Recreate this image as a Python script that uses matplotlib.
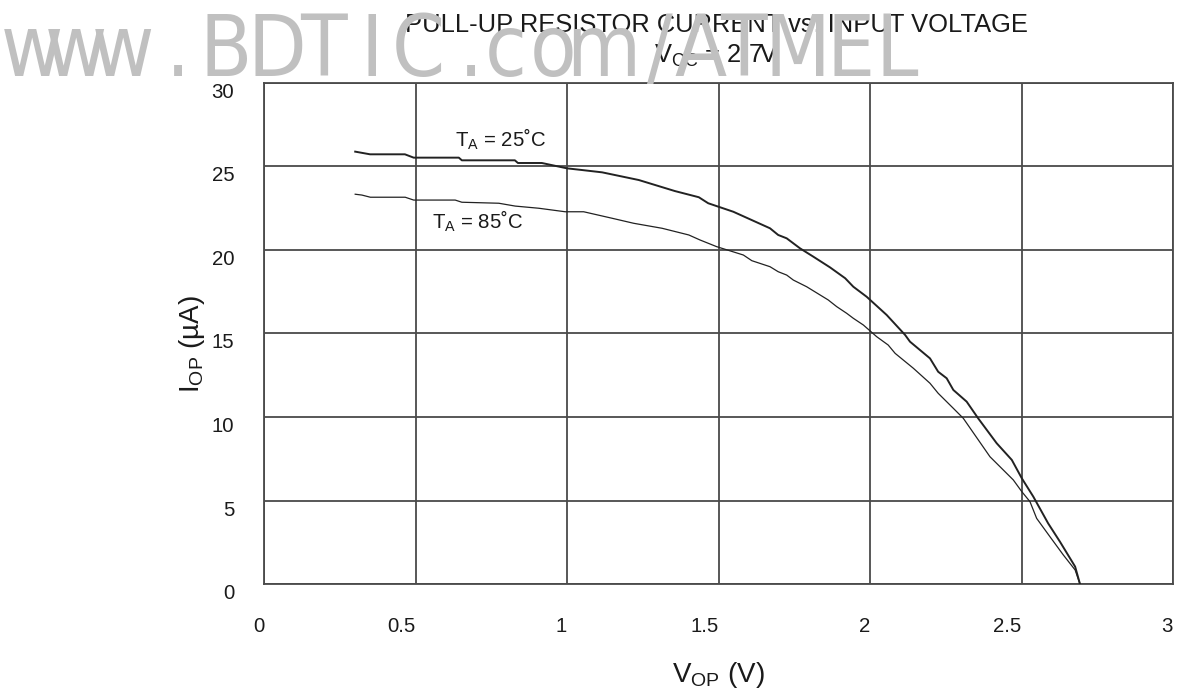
import matplotlib
matplotlib.use("Agg")
import os
import matplotlib.pyplot as plt
from matplotlib import font_manager
from matplotlib.font_manager import FontProperties

# ---- data ----
v_25 = [0.301, 0.35, 0.465, 0.494, 0.643, 0.653, 0.828, 0.838, 0.917, 1.0, 1.049, 1.116,
        1.237, 1.356, 1.435, 1.466, 1.549, 1.604, 1.670, 1.697, 1.725, 1.769, 1.813, 1.868,
        1.918, 1.945, 1.989, 2.055, 2.116, 2.132, 2.198, 2.225, 2.253, 2.275, 2.319, 2.357,
        2.418, 2.468, 2.501, 2.539, 2.588, 2.627, 2.677, 2.693]
i_25 = [25.89, 25.73, 25.73, 25.53, 25.53, 25.37, 25.37, 25.21, 25.21, 24.89, 24.79, 24.65,
        24.19, 23.53, 23.16, 22.80, 22.29, 21.84, 21.30, 20.90, 20.70, 20.10, 19.60, 18.96,
        18.31, 17.80, 17.20, 16.11, 14.91, 14.51, 13.51, 12.71, 12.32, 11.62, 10.92, 9.92,
        8.43, 7.43, 6.33, 5.23, 3.63, 2.53, 1.04, 0.0]

v_85 = [0.301, 0.323, 0.351, 0.466, 0.494, 0.631, 0.653, 0.775, 0.829, 0.907, 0.994, 1.055,
        1.149, 1.220, 1.314, 1.402, 1.439, 1.494, 1.582, 1.610, 1.670, 1.697, 1.725, 1.747,
        1.791, 1.862, 1.890, 1.923, 1.945, 1.978, 2.022, 2.060, 2.083, 2.143, 2.198, 2.225,
        2.275, 2.308, 2.396, 2.473, 2.501, 2.528, 2.550, 2.594, 2.638, 2.677, 2.693]
i_85 = [23.34, 23.29, 23.16, 23.16, 22.99, 22.99, 22.86, 22.80, 22.63, 22.50, 22.29, 22.29,
        21.90, 21.60, 21.30, 20.90, 20.60, 20.20, 19.70, 19.36, 19.00, 18.70, 18.50, 18.20,
        17.80, 17.01, 16.61, 16.21, 15.91, 15.51, 14.81, 14.31, 13.81, 12.92, 12.02, 11.42,
        10.52, 9.92, 7.62, 6.23, 5.53, 4.93, 3.93, 2.83, 1.74, 0.84, 0.0]

x_ticks = [0, 0.5, 1, 1.5, 2, 2.5, 3]
x_tick_labels = ["0", "0.5", "1", "1.5", "2", "2.5", "3"]
y_ticks = [0, 5, 10, 15, 20, 25, 30]
y_tick_labels = ["0", "5", "10", "15", "20", "25", "30"]

title = "PULL-UP RESISTOR CURRENT vs. INPUT VOLTAGE"
subtitle = r"$\mathregular{V_{CC}}$ = 2.7V"
label_25 = r"$\mathregular{T_A}$ = 25˚C"
label_85 = r"$\mathregular{T_A}$ = 85˚C"
watermark = "www.BDTIC.com/ATMEL"
watermark_x = [32, 76, 123, 178, 226, 277, 323, 372, 418, 471, 506, 553, 603, 660,
               700, 743, 797, 851, 897]

# ---- fonts ----
names = {f.name for f in font_manager.fontManager.ttflist}
base_font = "Liberation Sans" if "Liberation Sans" in names else "DejaVu Sans"
plt.rcParams["font.family"] = [base_font, "DejaVu Sans"]
plt.rcParams["mathtext.fontset"] = "custom"
plt.rcParams["mathtext.rm"] = base_font
plt.rcParams["mathtext.it"] = base_font + ":italic"

# narrow face for the watermark
files = [f.fname for f in font_manager.fontManager.ttflist]
wm_file = None
wm_size = 58
for pat, size in [("LiberationSansNarrow-Regular", 66),
                  ("NotoSans-ExtraCondensed.", 66),
                  ("NotoSans-Condensed.", 63),
                  ("DejaVuSansCondensed.", 61)]:
    hits = [p for p in files if os.path.basename(p).startswith(pat)]
    if hits:
        wm_file, wm_size = hits[0], size
        break
if wm_file:
    wm_prop = FontProperties(fname=wm_file, size=wm_size)
else:
    wm_prop = FontProperties(family=base_font, size=wm_size)

W, H = 1195, 689
fig = plt.figure(figsize=(W / 100, H / 100), dpi=100)
ax = fig.add_axes([264 / W, 1 - 584 / H, (1173 - 264) / W, (584 - 83) / H])

ink = "#222222"
grid_c = "#4a4a4a"

ax.plot(v_25, i_25, color=ink, lw=1.4, zorder=3)
ax.plot(v_85, i_85, color=ink, lw=0.9, zorder=3)

ax.set_xlim(0, 3)
ax.set_ylim(0, 30)
ax.set_xticks(x_ticks)
ax.set_xticklabels(x_tick_labels)
ax.set_yticks(y_ticks)
ax.set_yticklabels(y_tick_labels)
ax.grid(True, color=grid_c, lw=1.3)
ax.set_axisbelow(True)
for s in ax.spines.values():
    s.set_color(grid_c)
    s.set_linewidth(1.3)
ax.tick_params(length=0, labelsize=14.7, colors="#1a1a1a")
ax.tick_params(axis="x", pad=24.0)
ax.tick_params(axis="y", pad=21.5)
for lab in ax.get_xticklabels():
    lab.set_ha("right")
for lab in ax.get_yticklabels():
    lab.set_va("top")

ax.set_xlabel(r"$\mathregular{V_{OP}}$ (V)", fontsize=20, color="#1a1a1a")
ax.xaxis.set_label_coords(0.5, -0.152)
ax.set_ylabel(r"$\mathregular{I_{OP}}$ (µA)", fontsize=20, color="#1a1a1a")
ax.yaxis.set_label_coords(-0.063, 0.479)

ax.text(0.63, 26.17, label_25, fontsize=14.7, color="#1a1a1a", ha="left", va="baseline")
ax.text(0.555, 21.26, label_85, fontsize=14.7, color="#1a1a1a", ha="left", va="baseline")

fig.text(716 / W, 1 - 31.7 / H, title, fontsize=18.4, color="#1a1a1a",
         ha="center", va="baseline", zorder=5)
fig.text(716 / W, 1 - 63 / H, subtitle, fontsize=18.4, color="#1a1a1a",
         ha="center", va="baseline", zorder=5)

for ch, xp in zip(watermark, watermark_x):
    fig.text(xp / W, 1 - 76 / H, ch, fontproperties=wm_prop, color="#c0c0c0",
             ha="center", va="baseline", zorder=10)

fig.savefig("out.png", dpi=100)
